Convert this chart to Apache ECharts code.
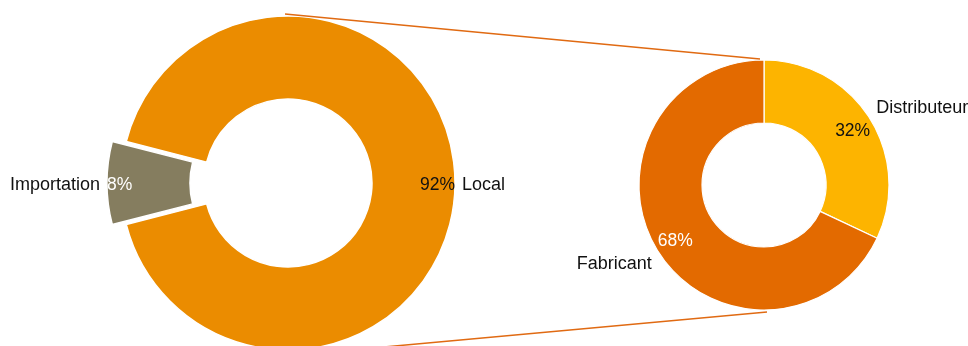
<!DOCTYPE html>
<html>
<head>
<meta charset="utf-8">
<script src="https://cdn.jsdelivr.net/npm/echarts@6/dist/echarts.min.js"></script>
<style>
  html, body { margin: 0; padding: 0; background: #ffffff; }
  #chart { width: 968px; height: 346px; }
</style>
</head>
<body>
<div id="chart"></div>
<script>
// Origine des achats (donut principal) et détail de la part locale (donut secondaire)
const origineLabels = ['Local', 'Importation'];
const origineValues = [92, 8];
const origineColors = ['#EB8C00', '#857D5F'];

const localLabels = ['Distributeur', 'Fabricant'];
const localValues = [32, 68];
const localColors = ['#FDB400', '#E36A00'];

// Geometry of the two rings
const main = { cx: 288, cy: 183, r0: 84, r: 167, pull: 14 };
const side = { cx: 764, cy: 185, r0: 62, r: 125 };

const FONT = 'Liberation Sans, Arial, sans-serif';
const FS_NAME = 18;
const FS_PCT = 17.5;

const chart = echarts.init(document.getElementById('chart'), null, { renderer: 'canvas' });

// start angle so the small slice sits centred on the left
const mainStart = 180 - (origineValues[1] / 100) * 360 / 2;

const mainData = origineLabels.map((n, i) => ({
  name: n, value: origineValues[i],
  selected: i === 1,
  itemStyle: { color: origineColors[i] }
}));
const mainPctData = origineLabels.map((n, i) => ({
  name: n, value: origineValues[i],
  selected: i === 1,
  label: { color: i === 1 ? '#ffffff' : '#111111' }
}));
const sideData = localLabels.map((n, i) => ({
  name: n, value: localValues[i],
  itemStyle: { color: localColors[i] }
}));
const sidePctData = localLabels.map((n, i) => ({
  name: n, value: localValues[i],
  label: { color: i === 1 ? '#ffffff' : '#111111' }
}));

const common = {
  type: 'pie',
  animation: false,
  clockwise: true,
  avoidLabelOverlap: false,
  emphasis: { disabled: true },
  labelLine: { show: false }
};

chart.setOption({
  backgroundColor: '#ffffff',
  series: [
    Object.assign({}, common, {
      center: [main.cx, main.cy],
      radius: [main.r0, main.r],
      startAngle: mainStart,
      selectedMode: 'single',
      selectedOffset: main.pull,
      itemStyle: { borderColor: '#ffffff', borderWidth: 1.5 },
      label: {
        show: true, position: 'outside', formatter: '{b}',
        color: '#111111', fontFamily: FONT, fontSize: FS_NAME,
        distanceToLabelLine: 5
      },
      labelLine: { show: false, length: 2, length2: 0 },
      labelLayout: function () { return { dy: 2 }; },
      data: mainData
    }),
    Object.assign({}, common, {
      silent: true,
      center: [main.cx, main.cy],
      radius: [main.r - 4, main.r - 2],
      startAngle: mainStart,
      selectedMode: 'single',
      selectedOffset: main.pull,
      itemStyle: { color: 'rgba(0,0,0,0)', borderWidth: 0 },
      label: {
        show: true, position: 'inside', formatter: '{c}%',
        fontFamily: FONT, fontSize: FS_PCT
      },
      labelLayout: function (p) {
        return { align: p.dataIndex === 0 ? 'right' : 'left', dy: 2 };
      },
      data: mainPctData
    }),
    Object.assign({}, common, {
      center: [side.cx, side.cy],
      radius: [side.r0, side.r],
      startAngle: 90,
      itemStyle: { borderColor: '#ffffff', borderWidth: 1.2 },
      label: {
        show: true, position: 'outside', formatter: '{b}',
        color: '#111111', fontFamily: FONT, fontSize: FS_NAME,
        distanceToLabelLine: 4
      },
      labelLine: { show: false, length: 8, length2: 0 },
      labelLayout: function (p) {
        return { dy: p.dataIndex === 0 ? -6 : 8, dx: p.dataIndex === 0 ? -4 : 4 };
      },
      data: sideData
    }),
    Object.assign({}, common, {
      silent: true,
      center: [side.cx, side.cy],
      radius: [97, 107],
      startAngle: 90,
      itemStyle: { color: 'rgba(0,0,0,0)', borderWidth: 0 },
      label: {
        show: true, position: 'inside', formatter: '{c}%',
        fontFamily: FONT, fontSize: FS_PCT
      },
      labelLayout: function (p) { return { dy: p.dataIndex === 0 ? 2 : 0 }; },
      data: sidePctData
    })
  ],
  graphic: [
    {
      type: 'line', silent: true, z: 100,
      shape: { x1: main.cx - 3, y1: main.cy - main.r - 2, x2: side.cx - 4, y2: side.cy - side.r - 1 },
      style: { stroke: '#E06A12', lineWidth: 1.5 }
    },
    {
      type: 'line', silent: true, z: 100,
      shape: { x1: 340, y1: 351, x2: side.cx + 3, y2: side.cy + side.r + 2 },
      style: { stroke: '#E06A12', lineWidth: 1.5 }
    }
  ]
});
</script>
</body>
</html>
